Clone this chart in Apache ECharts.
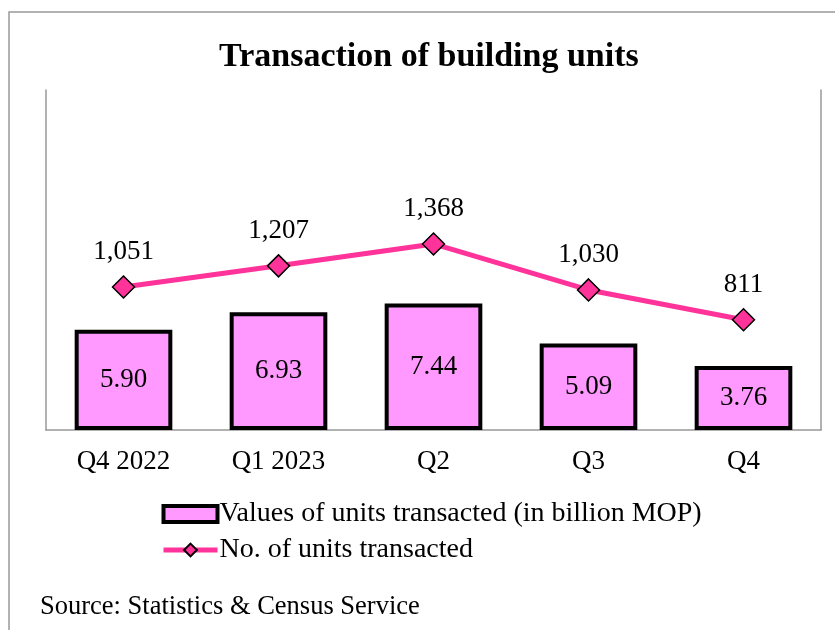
<!DOCTYPE html>
<html>
<head>
<meta charset="utf-8">
<script src="https://cdn.jsdelivr.net/npm/echarts@6/dist/echarts.min.js"></script>
<style>
  html, body { margin: 0; padding: 0; background: #fff; }
  #chart { width: 835px; height: 630px; }
</style>
</head>
<body>
<div id="chart"></div>
<script>
(function () {
    'use strict';

    var categories = ['Q4 2022', 'Q1 2023', 'Q2', 'Q3', 'Q4'];
    var unitValues = [5.90, 6.93, 7.44, 5.09, 3.76];
    var unitCounts = [1051, 1207, 1368, 1030, 811];
    var seriesNames = ['Values of units transacted (in billion MOP)', 'No. of units transacted'];

    var serif = '"Liberation Serif", "Times New Roman", serif';

    var myChart = echarts.init(document.getElementById('chart'));
    var option = {
        backgroundColor: '#fff',
        animation: false,
        textStyle: { fontFamily: serif, color: '#000' },
        title: {
            text: 'Transaction of building units',
            left: 214,
            top: 35,
            textStyle: { fontFamily: serif, fontSize: 34, fontWeight: 'bold', color: '#000' }
        },
        legend: {
            orient: 'vertical',
            left: 156,
            top: 495,
            itemWidth: 54,
            itemHeight: 16,
            itemGap: 8,
            textStyle: { fontFamily: serif, fontSize: 28, color: '#000', padding: [0, 0, 0, -3] },
            data: [
                { name: seriesNames[0], icon: 'rect', itemStyle: { borderWidth: 4 } },
                { name: seriesNames[1], lineStyle: { width: 5 } }
            ]
        },
        grid: { left: 46, right: 14, top: 90, bottom: 200 },
        xAxis: {
            type: 'category',
            data: categories,
            axisLine: { lineStyle: { color: '#999', width: 1.5 } },
            axisTick: { show: false },
            axisLabel: { fontFamily: serif, fontSize: 27, color: '#000', margin: 18 }
        },
        yAxis: [
            {
                type: 'value', min: 0, max: 20,
                axisLine: { show: true, lineStyle: { color: '#999', width: 1.5 } },
                axisTick: { show: false }, axisLabel: { show: false }, splitLine: { show: false }
            },
            {
                type: 'value', min: 0, max: 2500,
                axisLine: { show: true, lineStyle: { color: '#999', width: 1.5 } },
                axisTick: { show: false }, axisLabel: { show: false }, splitLine: { show: false }
            }
        ],
        series: [
            {
                name: seriesNames[0],
                type: 'bar',
                data: unitValues,
                barWidth: '63%',
                itemStyle: { color: '#FF99FF', borderColor: '#000', borderWidth: 4 },
                label: {
                    show: true, position: 'inside',
                    fontFamily: serif, fontSize: 27, color: '#000',
                    formatter: function (p) { return p.value.toFixed(2); }
                }
            },
            {
                name: seriesNames[1],
                type: 'line',
                yAxisIndex: 1,
                data: unitCounts,
                symbol: 'diamond',
                symbolSize: 22,
                lineStyle: { color: '#FF3399', width: 5 },
                itemStyle: { color: '#FF3399', borderColor: '#000', borderWidth: 1.5 },
                label: {
                    show: true, position: 'top', distance: 10,
                    fontFamily: serif, fontSize: 27, color: '#000',
                    formatter: function (p) { return p.value.toLocaleString('en-US'); }
                }
            }
        ],
        graphic: [
            {
                type: 'rect',
                shape: { x: 9, y: 12, width: 900, height: 700 },
                style: { fill: 'none', stroke: '#999', lineWidth: 1.5 },
                silent: true
            },
            {
                type: 'text',
                left: 40,
                top: 594,
                style: { text: 'Source: Statistics & Census Service', font: '26.5px ' + serif, fill: '#000' }
            }
        ]
    };
    myChart.setOption(option);
})();
</script>
</body>
</html>
